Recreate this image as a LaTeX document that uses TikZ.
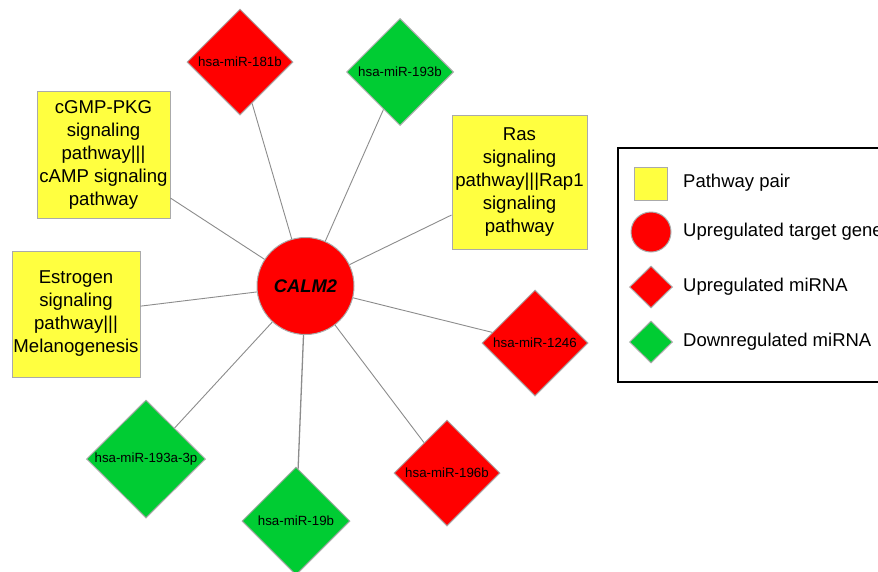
\documentclass[tikz,border=0pt]{standalone}
\usepackage{fontspec}
\setmainfont{Liberation Sans}
\usetikzlibrary{shapes.geometric}
\definecolor{pwyellow}{RGB}{255,255,64}
\definecolor{upred}{RGB}{255,0,0}
\definecolor{dngreen}{RGB}{0,204,51}
\definecolor{bordergray}{RGB}{170,170,170}
\definecolor{edgegray}{RGB}{140,140,140}
\begin{document}
\begin{tikzpicture}[x=1pt,y=-1pt,
  edge/.style={draw=edgegray, line width=0.9pt},
  pbox/.style={rectangle, draw=bordergray, fill=pwyellow, line width=1pt, align=center, inner sep=0pt,
    font=\fontsize{18.6}{23}\selectfont},
  mir/.style={diamond, draw=bordergray, line width=1pt, inner sep=0pt, minimum width=106pt, minimum height=106pt,
    font=\fontsize{13.3}{15}\selectfont},
  upmir/.style={mir, fill=upred},
  dnmir/.style={mir, fill=dngreen},
  gene/.style={circle, draw=bordergray, fill=upred, line width=1pt, inner sep=0pt, minimum size=97pt,
    font=\fontsize{18.3}{20}\selectfont\bfseries\itshape},
  legtext/.style={anchor=west, inner sep=0pt, font=\fontsize{18.5}{20}\selectfont}
]
\useasboundingbox (0,0) rectangle (878,571);
\clip (0,0) rectangle (878,571);
\fill[white] (0,0) rectangle (878,571);

% central gene
\node[gene] (c) at (305.5,286) {CALM2};

% miRNAs
\node[upmir] (m181) at (240,62) {hsa-miR-181b};
\node[dnmir, minimum width=107pt, minimum height=107pt] (m193b) at (400,72) {hsa-miR-193b};
\node[upmir] (m1246) at (535,343) {hsa-miR-1246};
\node[upmir] (m196b) at (447,473) {hsa-miR-196b};
\node[dnmir, minimum width=108pt, minimum height=108pt] (m19b) at (296,521) {hsa-miR-19b};
\node[dnmir, minimum width=119pt, minimum height=118pt] (m193a) at (146,459) {hsa-miR-193a-3p};

% pathway pairs
\node[pbox, minimum width=133pt, minimum height=127pt] (p1) at (103.5,154.5)
  {cGMP-PKG\\signaling\\pathway|||\\cAMP signaling\\pathway};
\node[pbox, minimum width=128pt, minimum height=126pt] (p2) at (76,314)
  {Estrogen\\signaling\\pathway|||\\Melanogenesis};
\node[pbox, minimum width=135pt, minimum height=134pt] (p3) at (519.5,182)
  {Ras\\signaling\\pathway|||Rap1\\signaling\\pathway};

% edges
\draw[edge] (c) -- (m181);
\draw[edge] (c) -- (m193b);
\draw[edge] (c) -- (m1246);
\draw[edge] (c) -- (m196b);
\draw[edge, line width=1.3pt] (c) -- (m19b);
\draw[edge] (c) -- (m193a);
\draw[edge] (c) -- (p1);
\draw[edge] (c) -- (p2);
\draw[edge] (c) -- (p3);

% legend
\draw[black, line width=1.3pt] (618,148) rectangle (900,382);
\node[rectangle, draw=bordergray, fill=pwyellow, line width=1pt, minimum size=33pt, inner sep=0pt] (l1) at (650.5,183.5) {};
\node[circle, draw=bordergray, fill=upred, line width=1pt, minimum size=40pt, inner sep=0pt] (l2) at (651,232) {};
\node[diamond, draw=bordergray, fill=upred, line width=1pt, minimum width=43pt, minimum height=42pt, inner sep=0pt] (l3) at (651,287) {};
\node[diamond, draw=bordergray, fill=dngreen, line width=1pt, minimum width=43pt, minimum height=42pt, inner sep=0pt] (l4) at (651,342) {};
\node[legtext] (t1) at (683,183) {Pathway pair};
\node[legtext] (t2) at (683,232) {Upregulated target gene};
\node[legtext] (t3) at (683,287) {Upregulated miRNA};
\node[legtext] (t4) at (683,342) {Downregulated miRNA};
\end{tikzpicture}
\end{document}
